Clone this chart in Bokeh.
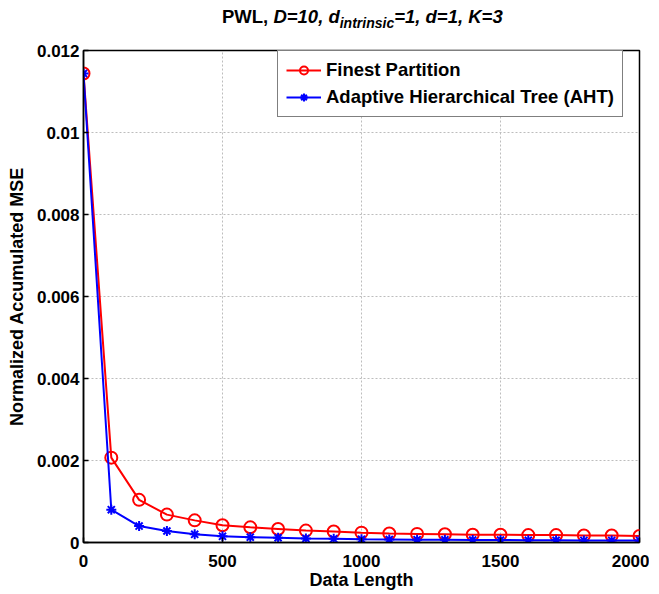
from bokeh.plotting import figure
from bokeh.models import FixedTicker, Legend, LegendItem, Range1d, Div
from bokeh.layouts import column
from bokeh.embed import file_html
from bokeh.resources import INLINE

# ---- data ----
data_length = [0, 100, 200, 300, 400, 500, 600, 700, 800, 900, 1000,
               1100, 1200, 1300, 1400, 1500, 1600, 1700, 1800, 1900, 2000]
finest_partition = [0.01144, 0.00207, 0.00104, 0.00068, 0.00054, 0.00042, 0.00037,
                    0.00033, 0.00029, 0.00027, 0.00024, 0.00022, 0.00021, 0.00020,
                    0.00019, 0.00019, 0.00018, 0.00018, 0.00017, 0.00017, 0.00016]
aht = [0.01144, 0.00080, 0.00040, 0.00028, 0.00020, 0.00015, 0.00013, 0.000115,
       0.00010, 0.00009, 0.00008, 0.000075, 0.00007, 0.000065, 0.00006, 0.00006,
       0.000055, 0.000055, 0.00005, 0.00005, 0.00005]
x_ticks = [0, 500, 1000, 1500, 2000]
y_ticks = [0, 0.002, 0.004, 0.006, 0.008, 0.01, 0.012]
y_tick_labels = ["0", "0.002", "0.004", "0.006", "0.008", "0.01", "0.012"]
series_names = ["Finest Partition", "Adaptive Hierarchical Tree (AHT)"]
title_html = ("<b>PWL, <i>D=10, d<sub style='font-size:14px'>intrinsic</sub>"
              "=1, d=1, K=3</i></b>")

FONT = "Liberation Sans"

title_div = Div(text=title_html, width=650, height=36, margin=0,
                styles={"font-family": FONT, "font-size": "18.5px", "line-height": "18px",
                        "padding-left": "222px", "padding-top": "8px", "color": "black"})

p = figure(frame_width=556, frame_height=492,
           min_border_left=83, min_border_right=10, min_border_top=14, min_border_bottom=40,
           x_range=Range1d(0, 2000), y_range=Range1d(0, 0.012),
           output_backend="svg", toolbar_location=None, margin=0)

p.outline_line_color = "black"
p.outline_line_width = 1.5
p.background_fill_color = "white"
p.border_fill_color = "white"

for ax in (p.xaxis[0], p.yaxis[0]):
    ax.axis_line_width = 1.5
    ax.axis_line_color = "black"
    ax.major_tick_in = 5
    ax.major_tick_out = 0
    ax.minor_tick_in = 0
    ax.minor_tick_out = 0
    ax.major_tick_line_width = 1.5
    ax.major_label_text_font = FONT
    ax.major_label_text_font_style = "bold"
    ax.major_label_text_font_size = "17px"
    ax.major_label_text_color = "black"
    ax.axis_label_text_font = FONT
    ax.axis_label_text_font_style = "bold"
    ax.axis_label_text_font_size = "18px"
    ax.axis_label_text_color = "black"

p.xaxis.ticker = FixedTicker(ticks=x_ticks)
p.yaxis.ticker = FixedTicker(ticks=y_ticks)
p.yaxis.major_label_overrides = {t: s for t, s in zip(y_ticks, y_tick_labels)}
p.xaxis.axis_label = "Data Length"
p.yaxis.axis_label = "Normalized Accumulated MSE"
p.xaxis.major_label_standoff = 12
p.xaxis.axis_label_standoff = 0
p.yaxis.major_label_standoff = 4
p.yaxis.axis_label_standoff = 7

for g in (p.xgrid[0], p.ygrid[0]):
    g.grid_line_color = "#bdbdbd"
    g.grid_line_dash = "2 2"
    g.grid_line_width = 1

r_line = p.line(data_length, finest_partition, line_color="#ff0000", line_width=2)
r_mark = p.scatter(data_length, finest_partition, marker="circle", size=12,
                   line_color="#ff0000", line_width=2, fill_color=None)
b_line = p.line(data_length, aht, line_color="#0000ff", line_width=2)
b_mark = p.scatter(data_length, aht, marker="asterisk", size=10,
                   line_color="#0000ff", line_width=2)

legend = Legend(items=[LegendItem(label=series_names[0], renderers=[r_line, r_mark]),
                       LegendItem(label=series_names[1], renderers=[b_line, b_mark])],
                location=(194, 425))
legend.label_text_font = FONT
legend.label_text_font_style = "bold"
legend.label_text_font_size = "18.5px"
legend.label_text_color = "black"
legend.border_line_color = "black"
legend.border_line_width = 1.5
legend.background_fill_alpha = 1
legend.glyph_width = 35
legend.glyph_height = 20
legend.label_height = 20
legend.label_standoff = 5
legend.spacing = 5
legend.padding = 8
legend.margin = 0
p.add_layout(legend)

layout = column(title_div, p, spacing=0)
open("out.html", "w").write(file_html(layout, INLINE))
